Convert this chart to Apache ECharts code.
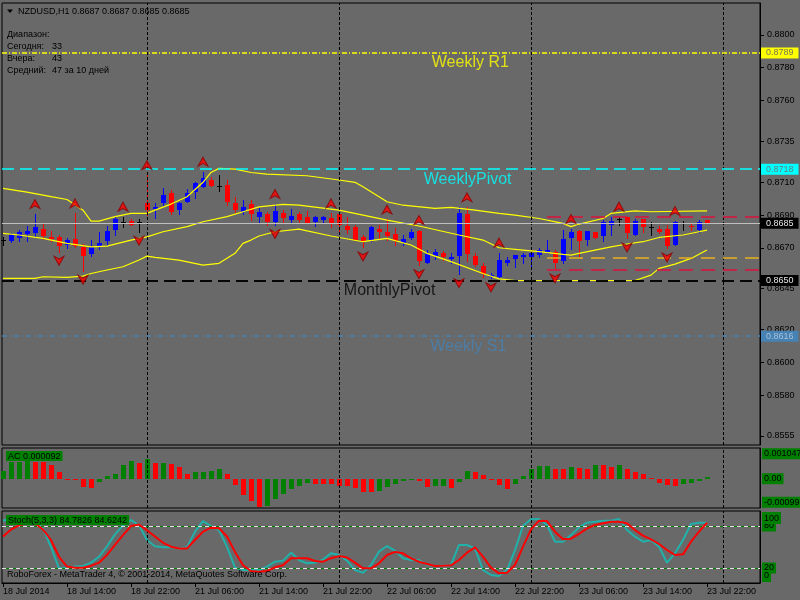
<!DOCTYPE html>
<html><head><meta charset="utf-8">
<script src="https://cdn.jsdelivr.net/npm/echarts@6/dist/echarts.min.js"></script>
<style>html,body{margin:0;padding:0;background:#696969;}#c{width:800px;height:600px;}</style>
</head><body><div id="c"></div><script>
// ---------- DATA ----------
const symbolName = 'NZDUSD,H1';
const tickLabels = ['18 Jul 2014','18 Jul 14:00','18 Jul 22:00','21 Jul 06:00','21 Jul 14:00','21 Jul 22:00','22 Jul 06:00','22 Jul 14:00','22 Jul 22:00','23 Jul 06:00','23 Jul 14:00','23 Jul 22:00'];
const tickBars = [0,8,16,24,32,40,48,56,64,72,80,88];
const daySepBars = [18,42,66,90];
const priceTicks = [0.8555,0.8580,0.8600,0.8620,0.8645,0.8670,0.8690,0.8710,0.8735,0.8760,0.8780,0.8800];

const open  = [0.86747,0.86743,0.86757,0.86782,0.86792,0.86814,0.86763,0.86763,0.86717,0.86753,0.86702,0.86664,0.86706,0.86743,0.86808,0.86859,0.86861,0.86859,0.86975,0.86934,0.86971,0.87036,0.86930,0.86981,0.87042,0.87073,0.87114,0.87079,0.87083,0.86975,0.86920,0.86967,0.86890,0.86906,0.86859,0.86914,0.86869,0.86906,0.86890,0.86859,0.86869,0.86879,0.86906,0.86833,0.86824,0.86767,0.86747,0.86814,0.86798,0.86784,0.86731,0.86757,0.86802,0.86609,0.86649,0.86670,0.86633,0.86649,0.86906,0.86649,0.86588,0.86519,0.86523,0.86609,0.86633,0.86641,0.86641,0.86653,0.86670,0.86676,0.86621,0.86761,0.86802,0.86747,0.86798,0.86772,0.86839,0.86875,0.86890,0.86778,0.86875,0.86824,0.86814,0.86814,0.86717,0.86853,0.86835,0.86808,0.8687];
const high  = [0.86763,0.86792,0.86808,0.86833,0.86906,0.86845,0.86802,0.86778,0.86757,0.86910,0.86723,0.86747,0.86798,0.86833,0.86894,0.86890,0.86875,0.86875,0.87144,0.86975,0.87063,0.87053,0.86981,0.87057,0.87104,0.87165,0.87130,0.87144,0.87114,0.87012,0.86992,0.86992,0.86941,0.86920,0.86967,0.86930,0.86934,0.86920,0.86924,0.86894,0.86894,0.86910,0.86906,0.86890,0.86839,0.86778,0.86833,0.86839,0.86873,0.86818,0.86778,0.86814,0.86808,0.86686,0.86690,0.86682,0.86670,0.86947,0.86947,0.86666,0.86605,0.86548,0.86670,0.86641,0.86653,0.86670,0.86670,0.86700,0.86747,0.86686,0.86808,0.86814,0.86808,0.86802,0.86798,0.86869,0.86890,0.86890,0.86890,0.86875,0.86875,0.86859,0.86833,0.86839,0.86863,0.86863,0.86849,0.86869,0.8687];
const low   = [0.86717,0.86737,0.86743,0.86743,0.86767,0.86751,0.86743,0.86676,0.86696,0.86702,0.86560,0.86649,0.86690,0.86717,0.86778,0.86829,0.86841,0.86798,0.86900,0.86879,0.86961,0.86906,0.86906,0.86977,0.87002,0.87069,0.87079,0.87049,0.86961,0.86920,0.86906,0.86869,0.86859,0.86839,0.86839,0.86859,0.86853,0.86859,0.86853,0.86833,0.86853,0.86824,0.86798,0.86792,0.86747,0.86702,0.86743,0.86757,0.86747,0.86717,0.86717,0.86751,0.86594,0.86605,0.86629,0.86625,0.86605,0.86539,0.86621,0.86588,0.86523,0.86513,0.86519,0.86594,0.86584,0.86609,0.86574,0.86645,0.86666,0.86568,0.86605,0.86692,0.86649,0.86717,0.86761,0.86743,0.86778,0.86839,0.86757,0.86778,0.86798,0.86778,0.86788,0.86696,0.86717,0.86808,0.86808,0.86798,0.8685];
const close = [0.86747,0.86784,0.86796,0.86802,0.86827,0.86774,0.86751,0.86712,0.86747,0.86712,0.86649,0.86702,0.86732,0.86802,0.86875,0.86859,0.86841,0.86859,0.86930,0.86951,0.87022,0.86920,0.86975,0.87036,0.87093,0.87124,0.87079,0.87079,0.86981,0.86930,0.86951,0.86904,0.86916,0.86859,0.86924,0.86884,0.86894,0.86869,0.86853,0.86886,0.86886,0.86853,0.86839,0.86808,0.86747,0.86741,0.86824,0.86798,0.86774,0.86741,0.86753,0.86794,0.86621,0.86662,0.86672,0.86641,0.86641,0.86910,0.86662,0.86594,0.86539,0.86533,0.86625,0.86625,0.86653,0.86657,0.86670,0.86686,0.86686,0.86609,0.86753,0.86798,0.86743,0.86802,0.86761,0.86859,0.86863,0.86875,0.86792,0.86863,0.86829,0.86824,0.86798,0.86710,0.86859,0.86853,0.86824,0.86859,0.8685];

// Bollinger bands: vertices [bar, price]
const bbUpper = [[0,0.87063],[3,0.87040],[6,0.87012],[8,0.86995],[10,0.86930],[11,0.86863],[12,0.86863],[14,0.86890],[16,0.86910],[18,0.86910],[19,0.86930],[21,0.86967],[23,0.87012],[25,0.87100],[26,0.87160],[27,0.87185],[29,0.87180],[31,0.87160],[33,0.87150],[38,0.87140],[42,0.87114],[44,0.87100],[45,0.87073],[48,0.86981],[50,0.86960],[54,0.86941],[56,0.86947],[59,0.86930],[62,0.86910],[64,0.86900],[67,0.86879],[70,0.86849],[71,0.86829],[72,0.86845],[75,0.86879],[76,0.86910],[79,0.86926],[81,0.86920],[88,0.86926]];
const bbMiddle = [[0,0.86788],[2,0.86778],[5,0.86757],[8,0.86727],[11,0.86706],[13,0.86710],[16,0.86747],[18,0.86767],[20,0.86798],[23,0.86829],[25,0.86859],[28,0.86890],[30,0.86920],[32,0.86950],[35,0.86965],[37,0.86961],[42,0.86930],[48,0.86869],[52,0.86833],[57,0.86778],[60,0.86747],[62,0.86700],[65,0.86686],[67,0.86676],[70,0.86660],[71,0.86655],[72,0.86666],[74,0.86686],[76,0.86706],[78,0.86723],[80,0.86737],[82,0.86763],[85,0.86778],[87,0.86798],[88,0.86808]];
const bbLower = [[0,0.86513],[4,0.86513],[5,0.86523],[8,0.86519],[10,0.86527],[11,0.86543],[13,0.86564],[15,0.86584],[17,0.86625],[18,0.86649],[19,0.86641],[22,0.86625],[25,0.86594],[27,0.86605],[29,0.86666],[30,0.86727],[31,0.86747],[32,0.86772],[34,0.86798],[37,0.86814],[41,0.86772],[45,0.86737],[48,0.86757],[51,0.86717],[53,0.86666],[56,0.86615],[60,0.86543],[62,0.86510],[64,0.86500],[79,0.86500],[81,0.86533],[82,0.86574],[84,0.86600],[86,0.86635],[88,0.86686]];

const fractalUpBars = [4,9,15,18,25,34,41,48,52,58,62,71,77,84];
const fractalDownBars = [7,10,17,34,45,52,57,61,69,78,83];

const levelNames = ['Weekly R1','WeeklyPivot','MonthlyPivot','Weekly S1'];
const levelPrices = [0.8789, 0.8718, 0.8650, 0.8616];
const levelTextBars = [53.6, 52.6, 42.6, 53.4];
const dayRangeStartBar = 68;
const dayRangeRed = [0.86890, 0.86564];
const dayRangeGold = [0.86642];

const acValues = [0.000322,0.000700,0.000705,0.000784,0.000700,0.000695,0.000574,0.000280,-0.000028,-0.000070,-0.000336,-0.000378,-0.000126,0.000112,0.000196,0.000574,0.000742,0.000658,0.000826,0.000658,0.000672,0.000616,0.000490,0.000210,0.000280,0.000294,0.000322,0.000406,0.000210,-0.000266,-0.000672,-0.000938,-0.001190,-0.001148,-0.000854,-0.000630,-0.000420,-0.000294,-0.000168,-0.000210,-0.000224,-0.000238,-0.000294,-0.000308,-0.000378,-0.000546,-0.000560,-0.000504,-0.000336,-0.000210,-0.000084,-0.000042,-0.000084,-0.000336,-0.000322,-0.000294,-0.000378,-0.000126,0.000322,0.000280,0.000154,-0.000028,-0.000252,-0.000420,-0.000210,0.000112,0.000406,0.000532,0.000546,0.000406,0.000392,0.000490,0.000448,0.000406,0.000574,0.000560,0.000490,0.000574,0.000406,0.000280,0.000196,0.000028,-0.000168,-0.000252,-0.000294,-0.000210,-0.000168,-0.000084,0.000092];
const acTicks = [0.001047, 0, -0.00099];
const acTickLabels = ['0.001047','0.00','-0.00099'];

const stochK = [87.6,91,92,91,86,77,50,19.5,19.5,22,23,27.6,36,51,68,81,88.6,81,60,51,49.5,49.5,48,49.5,71.9,87,80,74,50.5,20.5,17,17,17,22,29,30.5,42,31.4,26.7,27.6,32,41,38.6,30.5,17,13.3,24.3,43.3,51.4,44.8,33.8,31.4,31.4,24.3,22.9,23.3,24.3,52.9,52.9,48,17.1,10,8.6,17.1,45.7,80,89.5,90,81.4,57.6,57.6,67,78,84.8,86.2,87.6,87.6,90,74.3,64.8,57.6,60,50.5,27.6,41,60,82.9,84.8,84.7826];
const stochD = [65,75,81,84,84,75,60,36,22,20.5,20.5,23,27.6,38.6,53,67,80,82,74,65,56,50.5,48,48,60,72,77.6,76.7,65,43,24,15.7,14.8,15.7,21,24,34,34,34,30,29,34,37,35,27.6,19.5,19.5,26.7,38.6,43,41,33.8,29,25.7,22.9,23.3,23.8,31.4,41.9,49.5,36.2,20.5,12.4,13.3,24.3,50.5,75.2,87.6,87,71.9,61,61.9,68.6,76.7,81.4,83.8,86.2,86.2,83.8,74.3,66.2,61,54.3,45.7,38.6,39.5,57.6,71.9,84.6242];
const stochTicksMid = [20, 80];
const stochParams = '5,3,3';

const rangeToday = 33, rangeYesterday = 43, rangeAvg = 47, rangeDays = 10;
const copyright = 'RoboForex - MetaTrader 4, © 2001-2014, MetaQuotes Software Corp.';

// ---------- STYLE ----------
const FONT = 'Liberation Sans';
const F9 = '9px "Liberation Sans"';
const X_MIN = -0.125, X_MAX = 94.625;
const BULL = '#0000FF', BEAR = '#FF0000', DOJI = '#000000';
const LW = 1.5;
const levelStyles = [
  {line:'#FFFF00', dash:[5,2,1,2], boxBg:'#FFFF00', boxFg:'#777755'},
  {line:'#00FFFF', dash:[12,6], boxBg:'#00FFFF', boxFg:'#5f7f7f'},
  {line:'#000000', dash:[12,6], boxBg:'#000000', boxFg:'#E8E8E8'},
  {line:'#4682B4', dash:[5,3,1,3], boxBg:'#4682B4', boxFg:'#A8C0D8'}
];
const GREEN_BOX = '#008000';

const chart = echarts.init(document.getElementById('c'));
const last = open.length - 1;

function boxLabel(text, bg, fg) {
  return {show:true, position:'end', distance:1, formatter:text, backgroundColor:bg, color:fg,
    fontFamily:FONT, fontSize:9, padding:[1,5,0,5], lineHeight:10};
}

const hLevelLines = levelPrices.map((p,k)=>({
  yAxis:p, lineStyle:{color:levelStyles[k].line, type:levelStyles[k].dash, width:LW},
  label:boxLabel(p.toFixed(4), levelStyles[k].boxBg, levelStyles[k].boxFg)
}));
hLevelLines.push({yAxis:close[last], lineStyle:{color:'#C0C0C0', type:'solid', width:1},
  label:boxLabel(close[last].toFixed(4), '#000000', '#E8E8E8')});
const rangeLines = [];
dayRangeRed.forEach(p=>rangeLines.push([{coord:[dayRangeStartBar,p], lineStyle:{color:'#E0103C', type:[14,8], width:LW}},{coord:[X_MAX,p]}]));
dayRangeGold.forEach(p=>rangeLines.push([{coord:[dayRangeStartBar,p], lineStyle:{color:'#E8B020', type:[14,8], width:LW}},{coord:[X_MAX,p]}]));

function sepMarkLine() {
  return {symbol:['none','none'], silent:true, animation:false, precision:6,
    label:{show:false}, lineStyle:{color:'#000', type:[3,2], width:1},
    data: daySepBars.map(b=>({xAxis:b}))};
}

const candleData = open.map((o,i)=>[i,o,high[i],low[i],close[i]]);
const yLine = {show:true, onZero:false, lineStyle:{color:'#000'}};
const yNoLine = {show:false, onZero:false};

const option = {
  animation:false,
  backgroundColor:'#696969',
  textStyle:{fontFamily:FONT},
  grid:[
    {left:2, top:3, width:758, height:442, show:true, borderColor:'#000', borderWidth:1, backgroundColor:'transparent', outerBoundsMode:'none', containLabel:false},
    {left:2, top:448, width:758, height:60, show:true, borderColor:'#000', borderWidth:1, backgroundColor:'transparent', outerBoundsMode:'none', containLabel:false},
    {left:2, top:511, width:758, height:72, show:true, borderColor:'#000', borderWidth:1, backgroundColor:'transparent', outerBoundsMode:'none', containLabel:false}
  ],
  xAxis:[
    {type:'value', gridIndex:0, min:X_MIN, max:X_MAX, show:false, axisLine:{onZero:false}},
    {type:'value', gridIndex:1, min:X_MIN, max:X_MAX, show:false, axisLine:{onZero:false}},
    {type:'value', gridIndex:2, min:X_MIN, max:X_MAX, position:'bottom',
      axisLine:{show:true, onZero:false, lineStyle:{color:'#000'}},
      axisTick:{show:true, customValues:tickBars, length:4, lineStyle:{color:'#000'}},
      splitLine:{show:false},
      axisLabel:{show:true, customValues:tickBars, align:'left', margin:4, color:'#000', fontFamily:FONT, fontSize:9,
        formatter:v=>tickLabels[tickBars.indexOf(Math.round(v))] || ''}}
  ],
  yAxis:[
    {type:'value', gridIndex:0, position:'right', min:0.85495, max:0.881955,
      axisLine:yLine, splitLine:{show:false},
      axisTick:{show:true, customValues:priceTicks, length:4, lineStyle:{color:'#000'}},
      axisLabel:{customValues:priceTicks, margin:7, color:'#000', fontFamily:FONT, fontSize:9, formatter:v=>v.toFixed(4)}},
    {type:'value', gridIndex:1, position:'right', min:-0.0012275, max:0.0012861,
      axisLine:yLine, splitLine:{show:false},
      axisTick:{show:false},
      axisLabel:{customValues:acTicks, margin:2, color:'#000', fontFamily:FONT, fontSize:9, backgroundColor:GREEN_BOX, padding:[1,2,0,2], lineHeight:10,
        formatter:v=>{let k=0,b=1e9;acTicks.forEach((t,j)=>{if(Math.abs(t-v)<b){b=Math.abs(t-v);k=j;}});return acTickLabels[k];}}},
    {type:'value', gridIndex:2, position:'right', min:-1.43, max:101.43,
      axisLine:yLine, splitLine:{show:false}, axisTick:{show:false},
      axisLabel:{customValues:stochTicksMid, margin:2, color:'#000', fontFamily:FONT, fontSize:9, backgroundColor:GREEN_BOX, padding:[1,2,0,2], lineHeight:10, formatter:v=>String(Math.round(v))}},
    {type:'value', gridIndex:2, position:'right', min:-1.43, max:101.43,
      axisLine:yNoLine, splitLine:{show:false}, axisTick:{show:false},
      axisLabel:{customValues:[100], margin:2, verticalAlign:'top', color:'#000', fontFamily:FONT, fontSize:9, backgroundColor:GREEN_BOX, padding:[2,2,0,2], lineHeight:10, formatter:v=>String(Math.round(v))}},
    {type:'value', gridIndex:2, position:'right', min:-1.43, max:101.43,
      axisLine:yNoLine, splitLine:{show:false}, axisTick:{show:false},
      axisLabel:{customValues:[0], margin:2, verticalAlign:'bottom', color:'#000', fontFamily:FONT, fontSize:9, backgroundColor:GREEN_BOX, padding:[1,2,1,2], lineHeight:10, formatter:v=>String(Math.round(v))}}
  ],
  series:[
    // day separators
    {type:'line', xAxisIndex:0, yAxisIndex:0, data:[], markLine:sepMarkLine(), z:1},
    {type:'line', xAxisIndex:1, yAxisIndex:1, data:[], markLine:sepMarkLine(), z:1},
    {type:'line', xAxisIndex:2, yAxisIndex:2, data:[], markLine:sepMarkLine(), z:1},
    // horizontal levels (under candles)
    {type:'line', xAxisIndex:0, yAxisIndex:0, data:[], z:2,
      markLine:{symbol:['none','none'], silent:true, animation:false, precision:6, data:hLevelLines.concat(rangeLines)}},
    // candles
    {type:'custom', name:'price', xAxisIndex:0, yAxisIndex:0, z:3, clip:false,
      data:candleData, encode:{x:0, y:[1,2,3,4]},
      renderItem:(params, api)=>{
        const i=api.value(0), o=api.value(1), h=api.value(2), l=api.value(3), c=api.value(4);
        const pO=api.coord([i,o]), pC=api.coord([i,c]), pH=api.coord([i,h]), pL=api.coord([i,l]);
        const x=Math.round(pO[0]);
        const col = c>o ? BULL : (c<o ? BEAR : DOJI);
        const ch=[{type:'line', shape:{x1:x+0.5,y1:Math.round(pH[1]),x2:x+0.5,y2:Math.round(pL[1])+1}, style:{stroke:col,lineWidth:1}}];
        if (c===o) {
          const yy=Math.round(pO[1])+0.5;
          ch.push({type:'line', shape:{x1:x-2,y1:yy,x2:x+3,y2:yy}, style:{stroke:col,lineWidth:1}});
        } else {
          const t=Math.round(Math.min(pO[1],pC[1])), b=Math.round(Math.max(pO[1],pC[1]));
          ch.push({type:'rect', shape:{x:x-2,y:t,width:5,height:Math.max(1,b-t)}, style:{fill:col}});
        }
        return {type:'group', children:ch};
      }},
    // Bollinger bands
    {type:'line', xAxisIndex:0, yAxisIndex:0, data:bbUpper, showSymbol:false, z:4, lineStyle:{color:'#FFFF00', width:1.2}},
    {type:'line', xAxisIndex:0, yAxisIndex:0, data:bbMiddle, showSymbol:false, z:4, lineStyle:{color:'#FFFF00', width:1.2}},
    {type:'line', xAxisIndex:0, yAxisIndex:0, data:bbLower, showSymbol:false, z:4, lineStyle:{color:'#FFFF00', width:1.2}},
    // monthly pivot dashes over the lower band
    {type:'line', xAxisIndex:0, yAxisIndex:0, data:[], z:5,
      markLine:{symbol:['none','none'], silent:true, animation:false, precision:6, label:{show:false},
        data:[{yAxis:levelPrices[2], lineStyle:{color:'#000', type:[12,6], width:LW}}]}},
    // fractals
    {type:'scatter', xAxisIndex:0, yAxisIndex:0, z:6, data:fractalUpBars.map(b=>[b,high[b]]),
      symbol:'path://M0,0 L6,10 L0,7 L-6,10 Z', symbolSize:[10,9], symbolOffset:[0,-10],
      itemStyle:{color:'#FF0000', borderColor:'#8B0000', borderWidth:1}},
    {type:'scatter', xAxisIndex:0, yAxisIndex:0, z:6, data:fractalDownBars.map(b=>[b,low[b]]),
      symbol:'path://M0,10 L6,0 L0,3 L-6,0 Z', symbolSize:[10,9], symbolOffset:[0,9],
      itemStyle:{color:'#FF0000', borderColor:'#8B0000', borderWidth:1}},
    // level names
    {type:'scatter', xAxisIndex:0, yAxisIndex:0, z:6, symbolSize:0,
      data:levelNames.map((n,k)=>({name:n, value:[levelTextBars[k], levelPrices[k]],
        label:{color:levelStyles[k].line}})),
      label:{show:true, formatter:'{b}', position:'inside', align:'left', verticalAlign:'middle', offset:[0,10], fontFamily:FONT, fontSize:16}},
    // AC histogram
    {type:'custom', xAxisIndex:1, yAxisIndex:1, z:3, data:acValues.map((v,i)=>[i,v]), encode:{x:0,y:1},
      renderItem:(params, api)=>{
        const i=api.value(0), v=api.value(1);
        const p0=api.coord([i,0]), p1=api.coord([i,v]);
        const x=Math.round(p0[0]);
        const prev = i>0 ? acValues[i-1] : -Infinity;
        const col = v>prev ? '#008000' : '#FF0000';
        const y0=Math.round(p0[1]), y1=Math.round(p1[1]);
        let t=Math.min(y0,y1), h=Math.abs(y1-y0); if(h<1){h=1; if(v<0) t=y0; else t=y0-1;}
        return {type:'rect', shape:{x:x-2, y:t, width:5, height:h}, style:{fill:col}};
      }},
    // stochastic
    {type:'line', xAxisIndex:2, yAxisIndex:2, z:3, data:[], 
      markLine:{symbol:['none','none'], silent:true, animation:false, precision:6, label:{show:false},
        data:[{yAxis:80, lineStyle:{color:'#008000', type:'solid', width:1}},{yAxis:20, lineStyle:{color:'#008000', type:'solid', width:1}},
              {yAxis:80, lineStyle:{color:'#E0E0E0', type:[4,3], width:1}},{yAxis:20, lineStyle:{color:'#E0E0E0', type:[4,3], width:1}}]}},
    {type:'line', xAxisIndex:2, yAxisIndex:2, z:4, data:stochK.map((v,i)=>[i,v]), showSymbol:false, lineStyle:{color:'#20B2AA', width:2}},
    {type:'line', xAxisIndex:2, yAxisIndex:2, z:5, data:stochD.map((v,i)=>[i,v]), showSymbol:false, lineStyle:{color:'#FF0000', width:2}}
  ],
  graphic:[
    {type:'polygon', z:100, shape:{points:[[7,9.5],[13,9.5],[10,13]]}, style:{fill:'#000'}},
    {type:'text', z:100, x:18, y:12, style:{text:symbolName+' '+[open[last],high[last],low[last],close[last]].map(v=>v.toFixed(4)).join(' '), fill:'#000', font:F9, verticalAlign:'middle'}},
    {type:'text', z:100, x:7, y:35, style:{text:'Диапазон:', fill:'#000', font:F9, verticalAlign:'middle'}},
    {type:'text', z:100, x:7, y:47, style:{text:'Сегодня:', fill:'#000', font:F9, verticalAlign:'middle'}},
    {type:'text', z:100, x:52, y:47, style:{text:String(rangeToday), fill:'#000', font:F9, verticalAlign:'middle'}},
    {type:'text', z:100, x:7, y:59, style:{text:'Вчера:', fill:'#000', font:F9, verticalAlign:'middle'}},
    {type:'text', z:100, x:52, y:59, style:{text:String(rangeYesterday), fill:'#000', font:F9, verticalAlign:'middle'}},
    {type:'text', z:100, x:7, y:71, style:{text:'Средний:', fill:'#000', font:F9, verticalAlign:'middle'}},
    {type:'text', z:100, x:52, y:71, style:{text:rangeAvg+' за '+rangeDays+' дней', fill:'#000', font:F9, verticalAlign:'middle'}},
    {type:'text', z:100, x:6, y:451, style:{text:'AC '+acValues[last].toFixed(6), fill:'#000', font:F9, backgroundColor:GREEN_BOX, padding:[1,2,0,2]}},
    {type:'text', z:100, x:6, y:515, style:{text:'Stoch('+stochParams+') '+stochK[last].toFixed(4)+' '+stochD[last].toFixed(4), fill:'#000', font:F9, backgroundColor:GREEN_BOX, padding:[1,2,0,2]}},
    {type:'text', z:100, x:7, y:575, style:{text:copyright, fill:'#000', font:F9, verticalAlign:'middle'}}
  ]
};
chart.setOption(option);
</script></body></html>
